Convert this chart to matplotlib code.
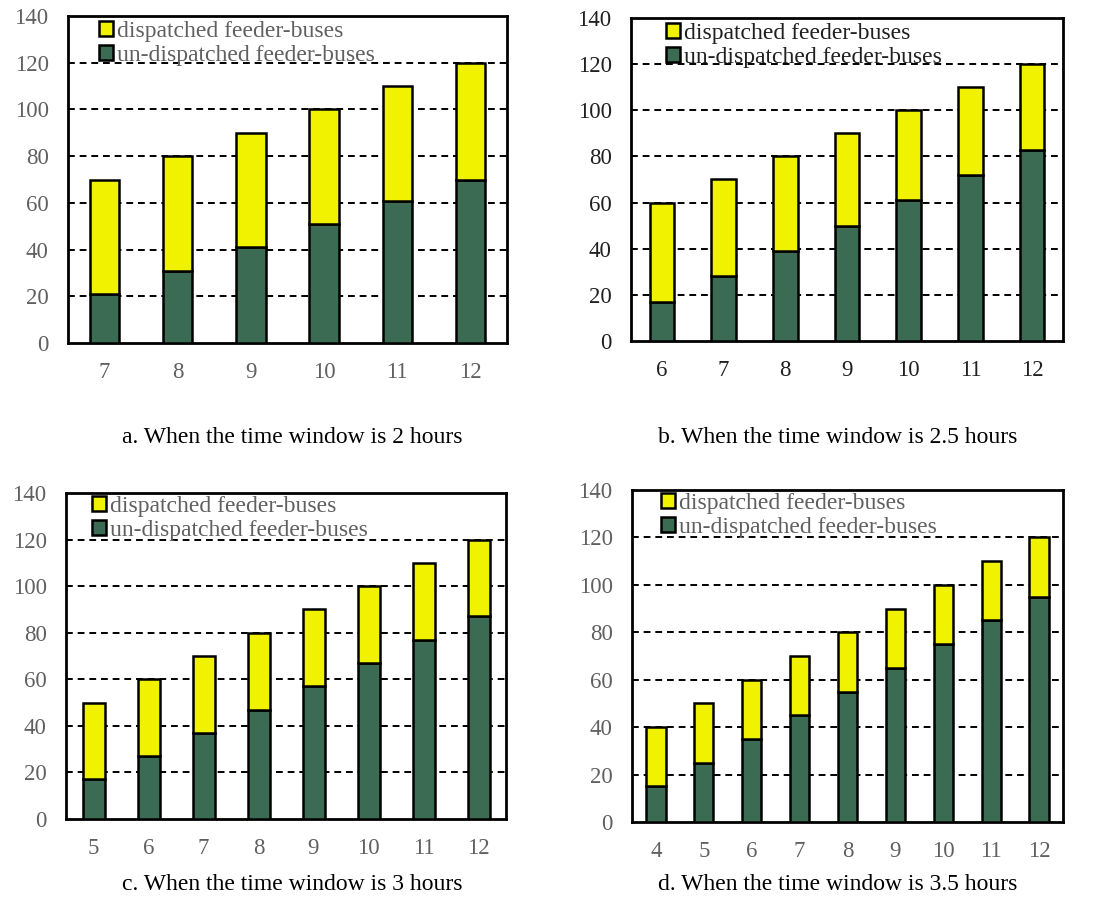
import matplotlib
matplotlib.use("Agg")
import matplotlib.pyplot as plt

# ---- data ----
cats_a = ["7", "8", "9", "10", "11", "12"]
total_a = [70, 80, 90, 100, 110, 120]
undisp_a = [21, 31, 41, 51, 61, 70]

cats_b = ["6", "7", "8", "9", "10", "11", "12"]
total_b = [60, 70, 80, 90, 100, 110, 120]
undisp_b = [17, 28, 39, 50, 61, 72, 83]

cats_c = ["5", "6", "7", "8", "9", "10", "11", "12"]
total_c = [50, 60, 70, 80, 90, 100, 110, 120]
undisp_c = [17, 27, 37, 47, 57, 67, 77, 87]

cats_d = ["4", "5", "6", "7", "8", "9", "10", "11", "12"]
total_d = [40, 50, 60, 70, 80, 90, 100, 110, 120]
undisp_d = [15, 25, 35, 45, 55, 65, 75, 85, 95]

yticks = [0, 20, 40, 60, 80, 100, 120, 140]
captions = ["a. When the time window is 2 hours",
            "b. When the time window is 2.5 hours",
            "c. When the time window is 3 hours",
            "d. When the time window is 3.5 hours"]
label_disp = "dispatched feeder-buses"
label_undisp = "un-dispatched feeder-buses"

YELLOW = "#F0F200"
GREEN = "#3B6B52"
GRAY = "#606060"

plt.rcParams["font.family"] = ["Liberation Serif", "DejaVu Serif"]

W, H = 1094, 922
fig = plt.figure(figsize=(W / 100, H / 100), dpi=100)

# pixel boxes: left, right, top, bottom
boxes = [(68, 507, 16, 343), (631, 1063, 18, 341),
         (66, 506, 493, 819), (632, 1063, 490, 822)]
leg_off = [31, 35, 26, 29]
leg_top = [5, 5, 3, 3]
cap_pos = [(292, 437), (838, 437), (292, 884), (838, 884)]
label_gray = [GRAY, "#202020", GRAY, GRAY]

panels = [(cats_a, total_a, undisp_a), (cats_b, total_b, undisp_b),
          (cats_c, total_c, undisp_c), (cats_d, total_d, undisp_d)]

for i, ((cats, tot, und), (l, r, t, b)) in enumerate(zip(panels, boxes)):
    ax = fig.add_axes([l / W, 1 - b / H, (r - l) / W, (b - t) / H])
    x = list(range(len(cats)))
    disp = [tt - uu for tt, uu in zip(tot, und)]
    ax.bar(x, und, width=0.4, color=GREEN, edgecolor="black", linewidth=1.8,
           label=label_undisp, zorder=3)
    ax.bar(x, disp, bottom=und, width=0.4, color=YELLOW, edgecolor="black",
           linewidth=1.8, label=label_disp, zorder=3)
    ax.set_xlim(-0.5, len(cats) - 0.5)
    ax.set_ylim(0, 140)
    ax.set_yticks(yticks)
    ax.set_xticks(x)
    ax.set_xticklabels(cats)
    ax.tick_params(axis="both", length=0, labelsize=16.5, colors=label_gray[i])
    ax.tick_params(axis="x", pad=14)
    ax.tick_params(axis="y", pad=14)
    for yv in yticks[1:-1]:
        ax.axhline(yv, color="black", linestyle=(0, (3.5, 2.5)), linewidth=1.4, zorder=1)
    for s in ax.spines.values():
        s.set_linewidth(2)
        s.set_color("black")
    h, lb = ax.get_legend_handles_labels()
    leg = ax.legend(h[::-1], lb[::-1], loc="upper left",
                    bbox_to_anchor=(leg_off[i] / (r - l), 1 - leg_top[i] / (b - t)),
                    frameon=False, fontsize=17, handlelength=0.6,
                    handleheight=0.6, handletextpad=0.15, labelspacing=0.12,
                    borderpad=0.0, borderaxespad=0.0)
    for txt in leg.get_texts():
        txt.set_color(label_gray[i])
    fig.text(cap_pos[i][0] / W, 1 - cap_pos[i][1] / H, captions[i],
             ha="center", va="center", fontsize=17, color="black")

fig.savefig("out.png", dpi=100)
